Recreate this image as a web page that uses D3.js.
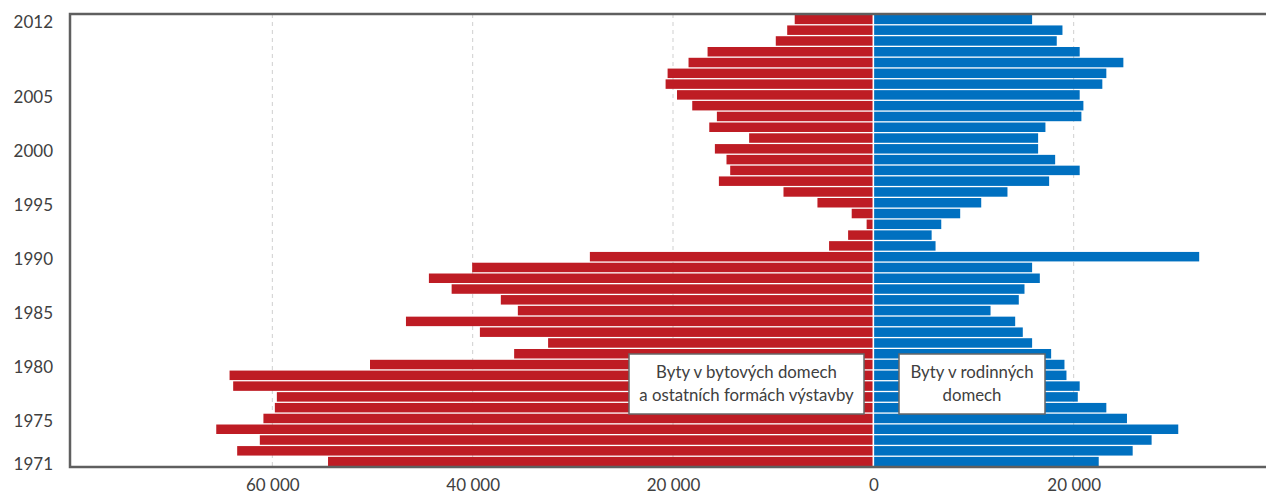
<!DOCTYPE html>
<html>
<head>
<meta charset="utf-8">
<script src="https://cdn.jsdelivr.net/npm/d3@7"></script>
<style>
  body { margin: 0; background: #fff; }
  svg text { font-family: Lato, "Open Sans", sans-serif; fill: #404040; }
</style>
</head>
<body>
<svg id="chart"></svg>
<script>
const width = 1266;
const height = 495;

// years from bottom (1971) to top (2012)
const years = d3.range(1971, 2013);

// Byty v bytových domech a ostatních formách výstavby (1971 .. 2012)
const flats = [
  54440, 63510, 61250, 65600, 60890, 59750, 59550, 63910, 64270, 50250,
  35860, 32470, 39280, 46660, 35490, 37190, 42100, 44370, 40050, 28300,
  4420, 2520, 670, 2160, 5580, 8970, 15420, 14290, 14660, 15820,
  12400, 16380, 15620, 18080, 19600, 20740, 20540, 18450, 16550, 9740,
  8600, 7850
];

// Byty v rodinných domech (1971 .. 2012)
const houses = [
  22500, 25890, 27780, 30440, 25320, 23260, 20410, 20600, 19280, 19080,
  17750, 15850, 14920, 14160, 11700, 14520, 15090, 16620, 15850, 32530,
  6210, 5820, 6780, 8670, 10770, 13390, 17550, 20600, 18150, 16450,
  16450, 17180, 20770, 20970, 20600, 22860, 23260, 24960, 20600, 18310,
  18880, 15850
];

const yearTicks = [2012, 2005, 2000, 1995, 1990, 1985, 1980, 1975, 1971];
const xTicks = [-60000, -40000, -20000, 0, 20000];
const gridTicks = [-60000, -40000, -20000, 20000];

const legendLeft = ["Byty v bytových domech", "a ostatních formách výstavby"];
const legendRight = ["Byty v rodinných", "domech"];

const red = "#be1c24";
const blue = "#0070c0";

const plotLeft = 70, plotRight = 1266, plotTop = 14, plotBottom = 467;

const svg = d3.select("#chart")
  .attr("width", width)
  .attr("height", height);

const x = d3.scaleLinear()
  .domain([-80200, 39200])
  .range([plotLeft, plotRight]);

const y = d3.scaleBand()
  .domain(years.slice().reverse())
  .range([plotTop, plotBottom])
  .paddingInner(0.12)
  .paddingOuter(0.06);

// grid
svg.append("g")
  .selectAll("line")
  .data(gridTicks)
  .join("line")
  .attr("x1", d => x(d)).attr("x2", d => x(d))
  .attr("y1", plotTop).attr("y2", plotBottom)
  .attr("stroke", "#cfcfcf")
  .attr("stroke-width", 1)
  .attr("stroke-dasharray", "4,4");

const rows = years.map((yr, i) => ({ year: yr, flats: flats[i], houses: houses[i] }));

// red bars (to the left)
svg.append("g")
  .attr("fill", red)
  .selectAll("rect")
  .data(rows)
  .join("rect")
  .attr("x", d => x(-d.flats))
  .attr("width", d => x(0) - 0.8 - x(-d.flats))
  .attr("y", d => y(d.year))
  .attr("height", y.bandwidth());

// blue bars (to the right)
svg.append("g")
  .attr("fill", blue)
  .selectAll("rect")
  .data(rows)
  .join("rect")
  .attr("x", x(0) + 0.8)
  .attr("width", d => x(d.houses) - x(0) - 0.8)
  .attr("y", d => y(d.year))
  .attr("height", y.bandwidth());

// frame
svg.append("path")
  .attr("d", `M${plotRight},${plotTop} H${plotLeft} V${plotBottom} H${plotRight}`)
  .attr("stroke", "#5f5f5f")
  .attr("stroke-width", 2.5)
  .attr("fill", "none");

// y labels
svg.append("g")
  .selectAll("text")
  .data(yearTicks)
  .join("text")
  .attr("x", 53)
  .attr("y", d => y(d) + y.bandwidth() / 2 + 4)
  .attr("text-anchor", "end")
  .attr("dominant-baseline", "middle")
  .style("font-size", "17px")
  .text(d => d);

// x axis
const xAxis = svg.append("g")
  .attr("transform", `translate(0,${plotBottom})`)
  .call(d3.axisBottom(x).tickValues(xTicks).tickSize(0).tickPadding(12)
    .tickFormat(d => d3.format(",")(Math.abs(d)).replace(/,/g, " ")));
xAxis.select(".domain").remove();
xAxis.selectAll("text")
  .style("font-size", "17px")
  .style("font-family", "Lato, sans-serif")
  .attr("fill", "#404040");

// legend boxes
function legend(lines, x0, x1, y0, y1) {
  const g = svg.append("g");
  g.append("rect")
    .attr("x", x0).attr("y", y0)
    .attr("width", x1 - x0).attr("height", y1 - y0)
    .attr("fill", "#fff")
    .attr("stroke", "#666")
    .attr("stroke-width", 1.5);
  g.selectAll("text")
    .data(lines)
    .join("text")
    .attr("x", (x0 + x1) / 2)
    .attr("y", (d, i) => (y0 + y1) / 2 - 10 + i * 23)
    .attr("text-anchor", "middle")
    .attr("dominant-baseline", "middle")
    .style("font-size", "16.8px")
    .text(d => d);
}
legend(legendLeft, 629, 864, 354, 414);
legend(legendRight, 899, 1045, 354, 414);
</script>
</body>
</html>
